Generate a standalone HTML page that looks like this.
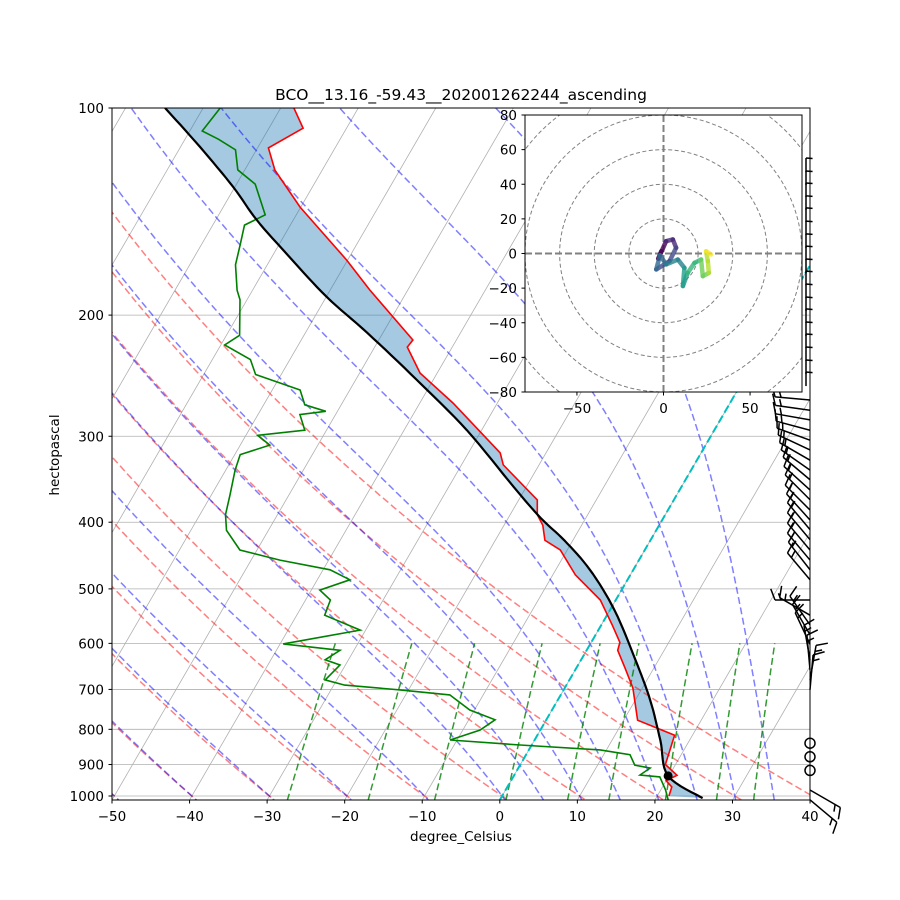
<!DOCTYPE html>
<html><head><meta charset="utf-8"><style>
body{margin:0;background:#fff;}
svg{display:block;font-family:"DejaVu Sans","Liberation Sans",sans-serif;}
</style></head><body>
<svg id="chart" width="900" height="900" viewBox="0 0 900 900" xmlns="http://www.w3.org/2000/svg">
<defs><clipPath id="plotclip"><rect x="112" y="108" width="698" height="692"/></clipPath>
<clipPath id="hodoclip"><rect x="525" y="115" width="277" height="277"/></clipPath></defs>
<rect x="0" y="0" width="900" height="900" fill="#fff"/>
<text x="461" y="100" font-size="15.5" text-anchor="middle">BCO__13.16_-59.43__202001262244_ascending</text>
<g id="plot" clip-path="url(#plotclip)"></g>
<g id="axes"></g>
<g id="barbs"></g>
<g id="hodo"></g>
<text x="461" y="841" font-size="13.5" text-anchor="middle">degree_Celsius</text>
<text x="59" y="455" font-size="13.5" text-anchor="middle" transform="rotate(-90 59 455)">hectopascal</text>
</svg>
<script>
const tempP=[1000,970,950,933,900,816,776,697,652,614,598,564,519,477,439,425,404,390,371.3,330.2,317.2,268.5,242.8,222.6,217.4,183.9,166.4,139.3,123.1,114.3,107,100];
const tempT=[21.5,21.2,20,21,18.7,17.7,11.8,8.8,6.3,4,3.7,1.4,-2,-7.1,-10.9,-13.6,-15,-16.5,-17.6,-24.6,-25.9,-35.7,-42.2,-45.8,-45.6,-54.9,-60.1,-70.1,-76.1,-78.6,-75.6,-78.3];
const dewP=[1013,979.5,938,932,911,902,871,857,843,829,802,775,750,713,701,690,678,645,634,614,601,574,546,519,502,485,469,454,439,411,390,365,336,319,309,299,294,279,276,270,257,244,232,221,214,190,184,169,158,148,143,129,123,115,111,108,100];
const dewT=[21.7,20.6,18.9,16.2,17,14.8,13.4,9.2,-1.5,-10.9,-7.8,-6.6,-10.6,-14.3,-21.1,-28.6,-31.5,-30.7,-33,-31.8,-39.6,-30.7,-36.4,-36.8,-38.9,-35.8,-39.1,-46.3,-52.2,-55.4,-56.7,-57.6,-58.8,-59.3,-56.2,-58.5,-52.8,-54.6,-51.5,-54.7,-56.4,-63.3,-65.1,-69.5,-68.3,-70.9,-72,-74.1,-75,-75.9,-74,-77.6,-80.9,-82.7,-85.7,-88.4,-87.8];
const parcelP=[1007,935,829,725,634,537,469,425,394.5,355.6,294,248.5,212.3,188.3,164.7,145.5,130.3,113.9,100];
const parcelT=[26,19.9,16.2,11.9,7,0.6,-5.6,-11.1,-15.8,-21.6,-31.9,-42.1,-52,-59.9,-67.7,-74.7,-80.2,-87.5,-94.9];
const hodoU=[-1.3,-3,1.5,5.4,7.3,3.5,-4.2,-2,1.5,8.3,12.1,11.2,14,17.9,21.7,22.7,26.2,25.6,24.6,27.5];
const hodoV=[1.3,-3,7.1,8.1,3.3,-4.4,-9.2,-1,-6.3,-3.5,-8.3,-18.8,-11.2,-5.4,-3.5,-13.1,-11.2,-4.4,1.3,-0.6];
const barbP=[123.9,129.4,134.7,140.6,146.4,153,159.7,166.4,173.7,180.9,188.9,197.3,205.3,214.5,223.3,233.2,243.6,253.6,265.7,275,284,294,304,314,325,336,347,359,371,384,397,410,424,439,454,469,485,519,546,564,583,602,634,656,678,701,980,1013];
const barbDir=[90,90,90,90,90,90,90,90,90,90,90,90,90,90,90,90,90,90,175,172,170,165,160,155,150,145,140,138,135,135,132,130,130,130,130,128,130,180,150,125,120,115,100,95,80,85,-30,-40];
const calmP=[838,877,918];
const pTicks=[100,200,300,400,500,600,700,800,900,1000];
const tTicks=[-50,-40,-30,-20,-10,0,10,20,30,40];
const hodoTicksY=[-80,-60,-40,-20,0,20,40,60,80];
const hodoTicksX=[-50,0,50];
const dry0=[-50,-40,-30,-20,-10,0,10,20,30,40];
const moist0=[-50,-40,-30,-20,-10,0,5,10,15,20,25,30,35];

const NS="http://www.w3.org/2000/svg";
const SK=0.58;
const DASH='7,3.5';
function yP(p){return 108+688*Math.log10(p/100);}
function xT(T,p){return 112+7.756*(T+50)+(800-yP(p))*SK;}
function mk(parent,tag,attrs){const e=document.createElementNS(NS,tag);for(const k in attrs)e.setAttribute(k,attrs[k]);parent.appendChild(e);return e;}
const plot=document.getElementById('plot');
const axes=document.getElementById('axes');
const barbs=document.getElementById('barbs');
const hodo=document.getElementById('hodo');
function pathFrom(Ts,Ps){return Ts.map((t,i)=>(i?'L':'M')+xT(t,Ps[i]).toFixed(1)+','+yP(Ps[i]).toFixed(1)).join('');}
function smoothPts(Ts,Ps){const P=Ts.map((t,i)=>[xT(t,Ps[i]),yP(Ps[i])]);const out=[P[0]];
 for(let i=0;i<P.length-1;i++){const p0=P[Math.max(0,i-1)],p1=P[i],p2=P[i+1],p3=P[Math.min(P.length-1,i+2)];
  for(let s=1;s<=8;s++){const t=s/8,t2=t*t,t3=t2*t;
   const f=(a,b,c,d)=>0.5*((2*b)+(-a+c)*t+(2*a-5*b+4*c-d)*t2+(-a+3*b-3*c+d)*t3);
   out.push([f(p0[0],p1[0],p2[0],p3[0]),f(p0[1],p1[1],p2[1],p3[1])]);}}
 return out;}
const parcelPts=smoothPts(parcelT,parcelP);
const parcelD=parcelPts.map((q,i)=>(i?'L':'M')+q[0].toFixed(1)+','+q[1].toFixed(1)).join('');
const pLevels=[];for(let p=1050;p>=95;p-=5)pLevels.push(p);

for(let T=-150;T<=50;T+=10){const l=mk(plot,'line',{x1:xT(T,1050),y1:yP(1050),x2:xT(T,90),y2:yP(90),stroke:'#b0b0b0','stroke-width':0.8});
}
pTicks.forEach(p=>{const l=mk(plot,'line',{x1:112,x2:810,y1:yP(p),y2:yP(p),stroke:'#b0b0b0','stroke-width':0.8});
});
{const rev=parcelPts.slice().reverse().map(q=>'L'+q[0].toFixed(1)+','+q[1].toFixed(1)).join('');
const d=pathFrom(tempT,tempP)+rev+'Z';
const s=mk(plot,'path',{d:d,fill:'rgba(31,119,180,0.4)',stroke:'none'});
}
dry0.forEach(T0=>{const d=pLevels.map((p,i)=>{const T=(T0+273.15)*Math.pow(p/1000,0.2857)-273.15;return (i?'L':'M')+xT(T,p).toFixed(1)+','+yP(p).toFixed(1);}).join('');
const l=mk(plot,'path',{d:d,fill:'none',stroke:'#ff0000','stroke-opacity':0.5,'stroke-width':1.5,'stroke-dasharray':DASH});
});
function es(T){return 6.112*Math.exp(17.67*T/(T+243.5));}
function dTdp(T,p){const Tk=T+273.15;const e=es(T);const rs=0.622*e/(p-e);return (287.04*Tk+2.501e6*rs)/(1005.7+2.501e6*2.501e6*rs*0.622/(287.04*Tk*Tk))/p;}
moist0.forEach(T0=>{let pts=[];let T=T0,p=1000;pts.push([T,p]);
 while(p>95){const h=-2;const k1=dTdp(T,p);const k2=dTdp(T+k1*h/2,p+h/2);T+=k2*h;p+=h;pts.push([T,p]);}
 T=T0;p=1000;const down=[];while(p<1050){const h=2;T+=dTdp(T,p)*h;p+=h;down.push([T,p]);}
 pts=down.reverse().concat(pts);
 const d=pts.map((q,i)=>(i?'L':'M')+xT(q[0],q[1]).toFixed(1)+','+yP(q[1]).toFixed(1)).join('');
 const l=mk(plot,'path',{d:d,fill:'none',stroke:'#0000ff','stroke-opacity':0.5,'stroke-width':1.5,'stroke-dasharray':DASH});
 });
[0.0004,0.001,0.002,0.004,0.007,0.01,0.016,0.024,0.032].forEach(w=>{const pts=[];for(let p=1050;p>=600;p-=10){const e=p*w/(0.622+w);const L=Math.log(e/6.112);pts.push([243.5*L/(17.67-L),p]);}
 const d=pts.map((q,i)=>(i?'L':'M')+xT(q[0],q[1]).toFixed(1)+','+yP(q[1]).toFixed(1)).join('');
 const l=mk(plot,'path',{d:d,fill:'none',stroke:'#008000','stroke-opacity':0.8,'stroke-width':1.5,'stroke-dasharray':DASH});
 });
{const l=mk(plot,'line',{x1:xT(0,1050),y1:yP(1050),x2:xT(0,90),y2:yP(90),stroke:'#00bfbf','stroke-width':2,'stroke-dasharray':'8,3.5'});
}
{const l=mk(plot,'path',{d:pathFrom(tempT,tempP),fill:'none',stroke:'#ff0000','stroke-width':1.6});
}
{const l=mk(plot,'path',{d:pathFrom(dewT,dewP),fill:'none',stroke:'#008000','stroke-width':1.6});
}
{const l=mk(plot,'path',{d:parcelD,fill:'none',stroke:'#000','stroke-width':2.2,'stroke-linejoin':'round'});
}
{const c=mk(plot,'circle',{cx:xT(parcelT[1],parcelP[1]),cy:yP(parcelP[1]),r:4.5,fill:'#000'});
}
{const r=mk(axes,'rect',{x:112,y:108,width:698,height:692,fill:'none',stroke:'#000','stroke-width':1});
}
pTicks.forEach(p=>{const y=yP(p);mk(axes,'line',{x1:108.5,x2:112,y1:y,y2:y,stroke:'#000'});
 const t=mk(axes,'text',{x:104,y:y+5,'font-size':13.5,'text-anchor':'end'});t.textContent=p;
 });
tTicks.forEach(T=>{const x=112+7.756*(T+50);mk(axes,'line',{x1:x,x2:x,y1:800,y2:803.5,stroke:'#000'});
 const t=mk(axes,'text',{x:x,y:821,'font-size':13.5,'text-anchor':'middle'});t.textContent=(T<0?'\u2212'+(-T):T);
 });
barbP.forEach((p,i)=>{const y=yP(p);const a=barbDir[i]*Math.PI/180;
 let x0=810,L=35;if(barbDir[i]===90){x0=806;L=14;}
 const x1=x0+L*Math.cos(a),y1=y-L*Math.sin(a);
 const b=mk(barbs,'line',{x1:x0,y1:y,x2:x1,y2:y1,stroke:'#000','stroke-width':1.5});
 
 const pa=a-Math.PI/2.6;const bl=barbDir[i]===90?7:12;
 mk(barbs,'line',{x1:x1,y1:y1,x2:x1+bl*Math.cos(pa),y2:y1-bl*Math.sin(pa)+(barbDir[i]===90?3:0),stroke:'#000','stroke-width':1.5});
 if(barbDir[i]!==90){const x2=x0+(L-6)*Math.cos(a),y2=y-(L-6)*Math.sin(a);mk(barbs,'line',{x1:x2,y1:y2,x2:x2+bl*0.6*Math.cos(pa),y2:y2-bl*0.6*Math.sin(pa),stroke:'#000','stroke-width':1.5});}
});
calmP.forEach(p=>{const c=mk(barbs,'circle',{cx:810,cy:yP(p),r:5,fill:'none',stroke:'#000','stroke-width':1.5});
 });
const hx0=663.5,hy0=253.5,hs=277/160;
function hX(u){return hx0+u*hs;}function hY(v){return hy0-v*hs;}
{const r=mk(hodo,'rect',{x:525,y:115,width:277,height:277,fill:'#fff'});}
const hg=mk(hodo,'g',{'clip-path':'url(#hodoclip)'});
[20,40,60,80,100].forEach(r=>{const c=mk(hg,'circle',{cx:hx0,cy:hy0,r:r*hs,fill:'none',stroke:'#808080','stroke-width':1,'stroke-dasharray':'4,2.5'});
 });
mk(hg,'line',{x1:525,x2:802,y1:hy0,y2:hy0,stroke:'#808080','stroke-width':2,'stroke-dasharray':'7,3'});
mk(hg,'line',{x1:hx0,x2:hx0,y1:115,y2:392,stroke:'#808080','stroke-width':2,'stroke-dasharray':'7,3'});
const vir=['#440154','#482878','#3e4989','#31688e','#26828e','#1f9e89','#35b779','#6ece58','#b5de2b','#fde725'];
for(let i=0;i<hodoU.length-1;i++){const c=vir[Math.min(9,Math.floor(i/(hodoU.length-1)*10))];
 const l=mk(hg,'line',{x1:hX(hodoU[i]),y1:hY(hodoV[i]),x2:hX(hodoU[i+1]),y2:hY(hodoV[i+1]),stroke:c,'stroke-width':4.5,'stroke-linecap':'round','stroke-opacity':0.8});
 }
{const r=mk(hodo,'rect',{x:525,y:115,width:277,height:277,fill:'none',stroke:'#000','stroke-width':1});}
hodoTicksY.forEach(v=>{const y=hY(v);mk(hodo,'line',{x1:521.5,x2:525,y1:y,y2:y,stroke:'#000'});
 const t=mk(hodo,'text',{x:517,y:y+5,'font-size':13.5,'text-anchor':'end'});t.textContent=(v<0?'\u2212'+(-v):v);
 });
hodoTicksX.forEach(u=>{const x=hX(u);mk(hodo,'line',{x1:x,x2:x,y1:392,y2:395.5,stroke:'#000'});
 const t=mk(hodo,'text',{x:x,y:413,'font-size':13.5,'text-anchor':'middle'});t.textContent=(u<0?'\u2212'+(-u):u);
 });
</script>
</body></html>
